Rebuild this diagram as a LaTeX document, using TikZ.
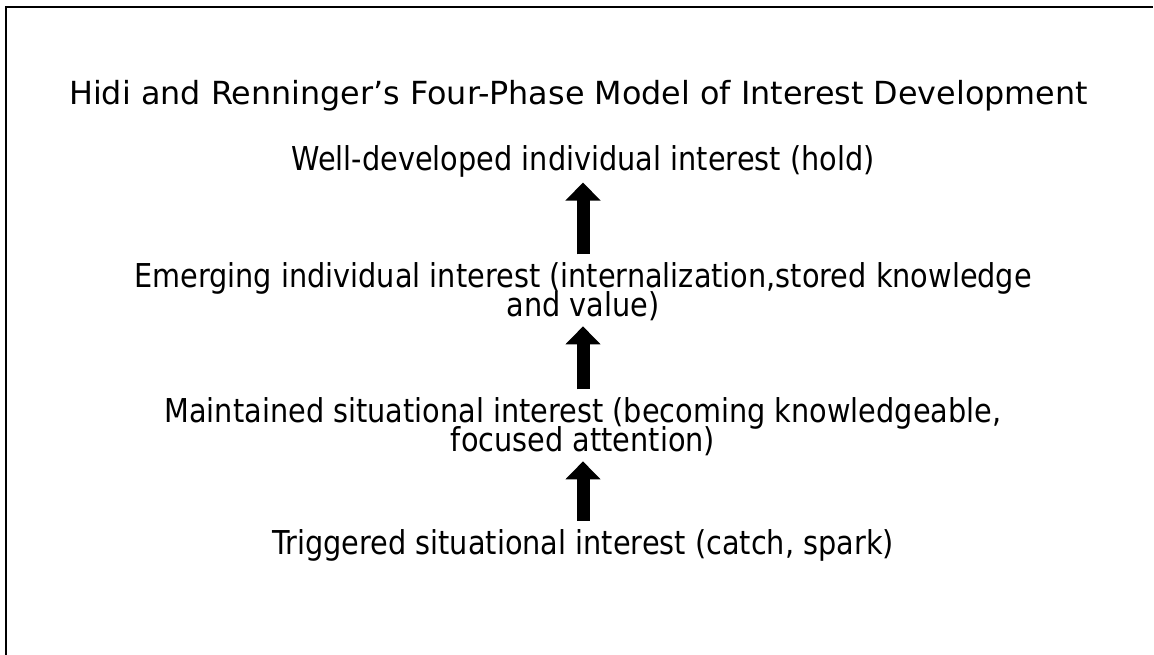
\documentclass[tikz,border=0pt]{standalone}
\usepackage{fontspec}
\setmainfont{DejaVu Sans}[FakeStretch=0.875]
\newfontfamily\titlefont{DejaVu Sans}
\usetikzlibrary{arrows.meta}

% tight leading for the two-line phases
\newcommand{\phasefont}{\fontsize{18.7}{16.4}\selectfont\setlength{\lineskiplimit}{-20pt}}

\tikzset{
    phase/.style={anchor=north, inner sep=0pt, align=center, font=\phasefont},
    lift/.style={line width=0.26cm, -{Triangle[width=0.68cm, length=0.36cm]},
        shorten <=0.16cm, shorten >=0.1cm},
}

\begin{document}
\begin{tikzpicture}
                    \useasboundingbox (0, 0) rectangle (23.08, 13.1);
                    \draw[line width=0.05cm] (0.12, 0) -- (0.12, 12.96) -- (23.06, 12.96);

                    \node[anchor=base, inner sep=0pt, font=\titlefont\fontsize{18.1}{21}\selectfont] (title) at (11.57, 11.0)
                        {Hidi and Renninger’s Four-Phase Model of Interest Development};

                    \node[phase] (hold) at (11.66, 10.2) {Well-developed individual interest (hold)};
                    \node[phase] (emerge) at (11.66, 7.85) {Emerging individual interest (internalization,stored knowledge\\and value)};
                    \node[phase] (keep) at (11.66, 5.15) {Maintained situational interest (becoming knowledgeable,\\focused attention)};
                    \node[phase] (spark) at (11.66, 2.52) {Triggered situational interest (catch, spark)};

                    \draw[lift] (spark) -- (keep);
                    \draw[lift] (keep) -- (emerge);
                    \draw[lift] (emerge) -- (hold);
                \end{tikzpicture}
\end{document}
